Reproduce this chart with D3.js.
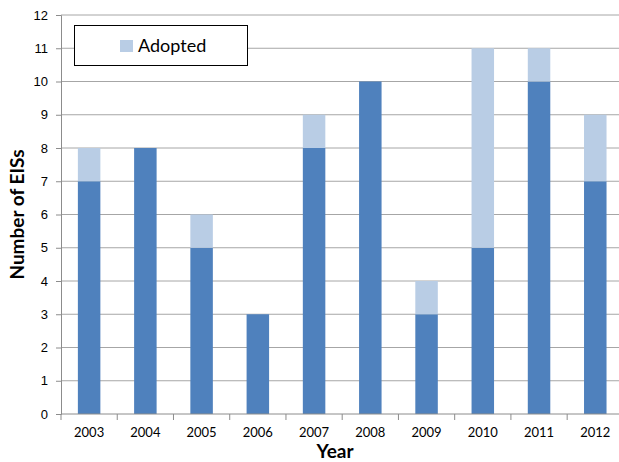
<!DOCTYPE html>
<html>
<head>
<meta charset="utf-8">
<script src="https://cdn.jsdelivr.net/npm/d3@7"></script>
<style>
  body { margin: 0; background: #fff; }
  svg { display: block; font-family: Lato, "Liberation Sans", sans-serif; }
</style>
</head>
<body>
<svg id="chart" width="619" height="462"></svg>
<script>
const years = ["2003", "2004", "2005", "2006", "2007", "2008", "2009", "2010", "2011", "2012"];
const baseCounts = [7, 8, 5, 3, 8, 10, 3, 5, 10, 7];
const adoptedCounts = [1, 0, 1, 0, 1, 0, 1, 6, 1, 2];
const yTicks = [0, 1, 2, 3, 4, 5, 6, 7, 8, 9, 10, 11, 12];

const svg = d3.select("#chart");
const margin = { left: 61, right: -4.4, top: 15, bottom: 48 };
const W = 619, H = 462;

const x = d3.scaleBand().domain(years)
  .range([margin.left, W - margin.right]).paddingInner(0.6).paddingOuter(0.3);
const xb = d3.scaleBand().domain(years).range([margin.left, W - margin.right]);
const y = d3.scaleLinear().domain([0, 12]).range([H - margin.bottom, margin.top]);

// horizontal gridlines
svg.append("g").selectAll("line").data(yTicks.filter(d => d > 0)).join("line")
  .attr("x1", margin.left).attr("x2", W)
  .attr("y1", d => y(d)).attr("y2", d => y(d))
  .attr("stroke", "#a6a6a6").attr("stroke-width", 1);

// stacked bars
const rows = years.map((yr, i) => ({ year: yr, base: baseCounts[i], adopted: adoptedCounts[i] }));
const stack = d3.stack().keys(["base", "adopted"])(rows);
const colors = { base: "#4f81bd", adopted: "#b9cde5" };
svg.append("g").selectAll("g").data(stack).join("g")
  .attr("fill", d => colors[d.key])
  .selectAll("rect").data(d => d).join("rect")
  .attr("x", d => x(d.data.year))
  .attr("width", x.bandwidth())
  .attr("y", d => y(d[1]))
  .attr("height", d => y(d[0]) - y(d[1]));

// y axis
const yAxis = svg.append("g").attr("transform", `translate(${margin.left},0)`)
  .call(d3.axisLeft(y).tickValues(yTicks).tickSize(5).tickPadding(8));
yAxis.select(".domain").attr("stroke", "#8c8c8c");
yAxis.selectAll(".tick line").attr("stroke", "#8c8c8c");
yAxis.selectAll("text").attr("font-size", 13).attr("fill", "#000");

// x axis with ticks at category boundaries
const xAxisG = svg.append("g").attr("transform", `translate(0,${y(0)})`);
xAxisG.append("line").attr("x1", margin.left).attr("x2", W).attr("stroke", "#8c8c8c");
xAxisG.selectAll("line.tk").data(years.concat(["end"])).join("line").attr("class", "tk")
  .attr("x1", (d, i) => i < years.length ? xb(d) : xb(years[years.length - 1]) + xb.bandwidth())
  .attr("x2", (d, i) => i < years.length ? xb(d) : xb(years[years.length - 1]) + xb.bandwidth())
  .attr("y1", 0).attr("y2", 6).attr("stroke", "#8c8c8c");
xAxisG.selectAll("text").data(years).join("text")
  .attr("x", d => xb(d) + xb.bandwidth() / 2).attr("y", 23)
  .attr("text-anchor", "middle").attr("font-size", 13).text(d => d);

// axis titles
svg.append("text").attr("x", 335).attr("y", 458).attr("text-anchor", "middle")
  .attr("font-size", 19).attr("font-weight", "bold").text("Year");
svg.append("text").attr("transform", `translate(24,${(y(0) + y(12)) / 2}) rotate(-90)`)
  .attr("text-anchor", "middle").attr("font-size", 19).attr("font-weight", "bold")
  .text("Number of EISs");

// legend
const lg = svg.append("g");
lg.append("rect").attr("x", 74.5).attr("y", 25.5).attr("width", 173).attr("height", 40)
  .attr("fill", "#fff").attr("stroke", "#000").attr("stroke-width", 1);
lg.append("rect").attr("x", 120).attr("y", 40).attr("width", 13).attr("height", 12)
  .attr("fill", colors.adopted);
lg.append("text").attr("x", 138).attr("y", 52).attr("font-size", 18).text("Adopted");
</script>
</body>
</html>
